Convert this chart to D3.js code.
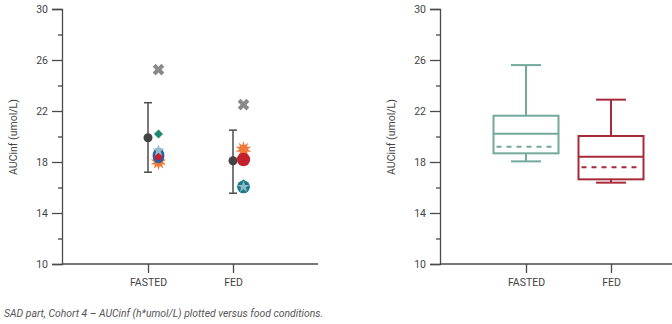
<!DOCTYPE html>
<html>
<head>
<meta charset="utf-8">
<script src="https://cdn.jsdelivr.net/npm/d3@7"></script>
<style>
  body { margin: 0; background: #fff; }
  svg text { font-family: Roboto, "Liberation Sans", sans-serif; }
</style>
</head>
<body>
<svg id="chart" width="672" height="324"></svg>
<script>
// food conditions
var categories = ["FASTED", "FED"];
var majorTicks = [10, 14, 18, 22, 26, 30];
var minorTicks = [12, 16, 20, 24, 28];

// mean +/- SD per condition
var meanValues = [19.9, 18.1];
var sdLow = [17.2, 15.55];
var sdHigh = [22.65, 20.5];

// individual subjects
var subjCross = [25.25, 22.5];
var subjDiamond = [20.2, 16.3];
var subjBlue = [18.5, 16.05];
var subjRed = [18.45, 18.2];
var subjOrange = [18.0, 19.0];
var subjStar = [18.9, 16.05];

// box plot stats
var boxMin = [18.05, 16.38];
var boxQ1 = [18.68, 16.64];
var boxMedian = [20.22, 18.42];
var boxMean = [19.2, 17.58];
var boxQ3 = [21.63, 20.04];
var boxMax = [25.6, 22.89];
var boxColors = ["#72a99b", "#a72a3b"];

var svg = d3.select("#chart");
var axisColor = "#4a4a4a";

var y = d3.scaleLinear().domain([10, 30]).range([264, 9]);

function drawAxes(g, x0, x1, xScale) {
  g.append("g").attr("transform", "translate(" + x0 + ",0)")
    .call(d3.axisLeft(y).tickValues(majorTicks).tickSize(10).tickPadding(4).tickFormat(d3.format("d")));
  g.append("g").attr("transform", "translate(" + x0 + ",0)")
    .call(d3.axisLeft(y).tickValues(minorTicks).tickSize(4).tickFormat(""))
    .select(".domain").remove();
  var ax = g.append("g").attr("transform", "translate(0,264)")
    .call(d3.axisBottom(xScale).tickSize(9).tickPadding(6));
  ax.select(".domain").remove();
  g.append("line").attr("x1", x0).attr("x2", x1).attr("y1", 264).attr("y2", 264)
    .attr("stroke", axisColor).attr("stroke-width", 1.3);
  g.selectAll(".domain, .tick line").attr("stroke", axisColor).attr("stroke-width", 1.3);
  g.selectAll(".tick text").attr("fill", "#444").attr("font-size", 10.5);
  g.append("text")
    .attr("transform", "translate(" + (x0 - 45) + "," + 137 + ") rotate(-90)")
    .attr("text-anchor", "middle").attr("font-size", 10.5).attr("fill", "#444")
    .text("AUCinf (umol/L)");
}

// left panel: mean +/- SD and individual values
var left = svg.append("g");
var xL = d3.scalePoint().domain(categories).range([148, 233]);
drawAxes(left, 62, 318, xL);

categories.forEach(function(c, i) {
  var cx = xL(c);
  var bar = left.append("g").attr("stroke", "#4d4d4d").attr("stroke-width", 1.5);
  bar.append("line").attr("x1", cx).attr("x2", cx).attr("y1", y(sdLow[i])).attr("y2", y(sdHigh[i]));
  bar.append("line").attr("x1", cx - 4).attr("x2", cx + 4).attr("y1", y(sdLow[i])).attr("y2", y(sdLow[i]));
  bar.append("line").attr("x1", cx - 4).attr("x2", cx + 4).attr("y1", y(sdHigh[i])).attr("y2", y(sdHigh[i]));
  left.append("circle").attr("cx", cx).attr("cy", y(meanValues[i])).attr("r", 4.5).attr("fill", "#444");

  var px = cx + 10.5;
  function sym(type, size, val, fill, rot, sy) {
    left.append("path")
      .attr("d", d3.symbol().type(type).size(size)())
      .attr("transform", "translate(" + px + "," + y(val) + ") rotate(" + (rot || 0) + ") scale(1," + (sy || 1) + ")")
      .attr("fill", fill);
  }
  sym(d3.symbolCross, 85, subjCross[i], "#8a8a8a", 45);
  sym(d3.symbolStar, 75, subjOrange[i], "#f07a3a", 0);
  sym(d3.symbolStar, 75, subjOrange[i], "#f07a3a", 36);
  sym(d3.symbolSquare, 40, subjDiamond[i], "#1c8a70", 45);
  if (i === 0) {
    sym(d3.symbolCircle, 110, subjBlue[i], "#2e5c9e", 0, 1.3);
    sym(d3.symbolCircle, 45, subjRed[i], "#c4202e", 0);
  } else {
    sym(d3.symbolCircle, 130, subjBlue[i], "#1d7a8a", 0);
    sym(d3.symbolCircle, 140, subjRed[i], "#c4202e", 0);
  }
  sym(d3.symbolStar, 45, subjStar[i], "#8fbccb", 0);
});

// right panel: box plots
var right = svg.append("g");
var xR = d3.scalePoint().domain(categories).range([526, 611]);
drawAxes(right, 440, 672, xR);

categories.forEach(function(c, i) {
  var cx = xR(c), hw = 32.5, cap = 15;
  var g = right.append("g").attr("stroke", boxColors[i]).attr("stroke-width", 2).attr("fill", "none");
  g.append("line").attr("x1", cx).attr("x2", cx).attr("y1", y(boxMax[i])).attr("y2", y(boxQ3[i]));
  g.append("line").attr("x1", cx).attr("x2", cx).attr("y1", y(boxQ1[i])).attr("y2", y(boxMin[i]));
  g.append("line").attr("x1", cx - cap).attr("x2", cx + cap).attr("y1", y(boxMax[i])).attr("y2", y(boxMax[i]));
  g.append("line").attr("x1", cx - cap).attr("x2", cx + cap).attr("y1", y(boxMin[i])).attr("y2", y(boxMin[i]));
  g.append("rect").attr("x", cx - hw).attr("width", hw * 2)
    .attr("y", y(boxQ3[i])).attr("height", y(boxQ1[i]) - y(boxQ3[i]));
  g.append("line").attr("x1", cx - hw).attr("x2", cx + hw).attr("y1", y(boxMedian[i])).attr("y2", y(boxMedian[i]));
  g.append("line").attr("x1", cx - hw + 3).attr("x2", cx + hw - 3).attr("y1", y(boxMean[i])).attr("y2", y(boxMean[i]))
    .attr("stroke-dasharray", "5,5");
});

svg.append("text").attr("x", 4).attr("y", 317)
  .attr("font-size", 10.4).attr("font-style", "italic").attr("fill", "#555")
  .text("SAD part, Cohort 4 – AUCinf (h*umol/L) plotted versus food conditions.");
</script>
</body>
</html>
